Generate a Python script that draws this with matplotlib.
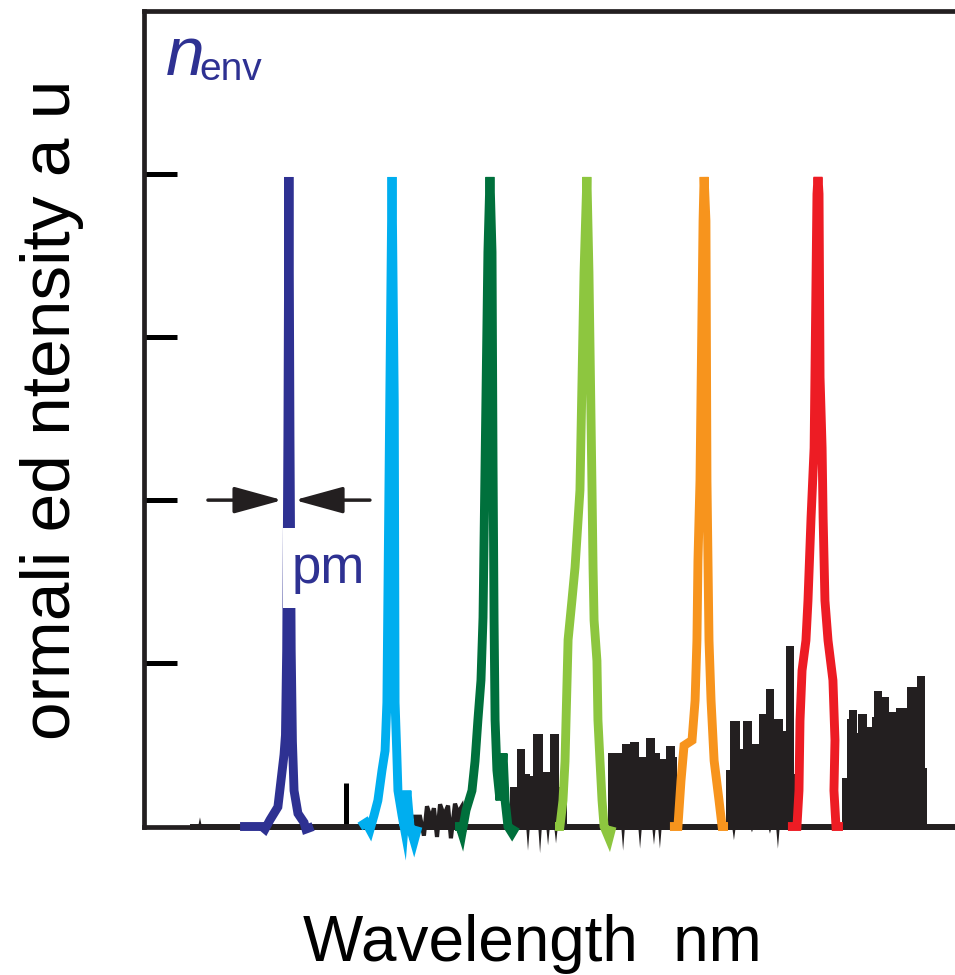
import numpy as np
import matplotlib
matplotlib.use('Agg')
import matplotlib.pyplot as plt
from matplotlib.patches import Rectangle

plt.rcParams['font.family'] = ['Liberation Sans', 'DejaVu Sans']

ink = '#231F20'
blue = '#2E3192'

# colored spectra (wavelength nm, normalized intensity)
blue_x = [448.2, 458.9, 460.4, 462.8, 466.7, 468.2, 469.7, 470.4, 471.0, 471.6, 472.1, 472.6, 473.2, 473.8, 474.6, 476.5, 479.5, 480.4, 483.9]
blue_y = [0, 0, -0.004, 0.01, 0.03, 0.07, 0.11, 0.14, 0.27, 0.6, 0.995, 0.6, 0.27, 0.13, 0.055, 0.02, 0.006, -0.004, 0]

cyan_x = [506.8, 509.8, 511.7, 513.7, 515.6, 517.6, 519.1, 520.0, 521.4, 522.5, 523.6, 524.0, 524.8, 525.4, 527.4, 528.4, 529.8, 531.3, 533.3, 535.2]
cyan_y = [0, 0.006, -0.005, 0.017, 0.04, 0.086, 0.116, 0.19, 0.65, 0.995, 0.65, 0.19, 0.116, 0.055, 0.017, 0, 0.055, 0, -0.022, 0]

dgreen_x = [553.3, 555.7, 556.7, 558.7, 561.6, 563.1, 564.5, 566.0, 567.0, 568.0, 569.4, 570.4, 571.4, 571.9, 572.4, 572.9, 573.8, 575.3, 576.8, 577.8, 579.2, 581.2, 583.1]
dgreen_y = [0, 0, -0.01, 0.025, 0.055, 0.1, 0.163, 0.224, 0.32, 0.554, 0.88, 0.995, 0.88, 0.554, 0.316, 0.163, 0.086, 0.04, 0.112, 0.04, 0, -0.01, 0]

lgreen_x = [602.2, 604.6, 606.1, 607.1, 607.6, 608.6, 610.5, 612.0, 614.4, 616.4, 617.8, 618.8, 620.3, 620.8, 621.3, 622.7, 623.2, 624.2, 625.2, 626.2, 628.6, 630.1]
lgreen_y = [0, 0, 0.04, 0.1, 0.163, 0.286, 0.347, 0.397, 0.515, 0.849, 0.995, 0.849, 0.515, 0.397, 0.316, 0.254, 0.163, 0.1, 0.04, 0, -0.018, 0]

orange_x = [658.4, 662.3, 663.8, 665.3, 669.2, 670.7, 671.6, 672.1, 673.1, 674.6, 675.1, 676.0, 676.5, 677.0, 677.5, 678.5, 680.0, 682.4, 683.9, 686.8]
orange_y = [0, 0, 0.07, 0.124, 0.132, 0.193, 0.285, 0.407, 0.53, 0.928, 0.995, 0.928, 0.53, 0.407, 0.285, 0.193, 0.101, 0.04, 0, 0]

red_x = [716.1, 720.5, 721.5, 722.0, 723.0, 724.9, 725.9, 727.4, 728.9, 729.3, 730.3, 730.8, 731.3, 731.8, 732.8, 733.3, 734.2, 735.7, 738.1, 739.1, 738.6, 739.6, 743.0]
red_y = [0, 0, 0.055, 0.162, 0.239, 0.285, 0.346, 0.473, 0.58, 0.688, 0.969, 0.995, 0.969, 0.688, 0.58, 0.473, 0.346, 0.285, 0.224, 0.132, 0.055, 0, 0]

peak_colors = ['#2E3192', '#00AEEF', '#00703C', '#8DC63F', '#F7941D', '#ED1C24']

# black noise trace between peaks
zig_x = [532.8, 536.2, 538.1, 539.6, 541.6, 543.0, 544.5, 546.0, 547.9, 549.9, 551.3, 553.3, 554.8, 556.7, 558.2]
zig_y = [0.015, 0.015, -0.014, 0.031, 0.012, 0.028, -0.016, 0.034, 0.017, 0.032, -0.018, 0.035, 0.021, 0.031, 0]

noiseB_edges = [580.2, 583.6, 587.5, 590.0, 591.4, 596.3, 599.8, 604.2, 608.1]
noiseB_h = [0.06, 0.119, 0.081, 0.078, 0.142, 0.083, 0.142, 0.06]
noiseC_edges = [628.1, 635.0, 638.9, 643.3, 646.7, 651.1, 653.5, 656.5, 660.9, 661.9]
noiseC_h = [0.112, 0.127, 0.129, 0.107, 0.136, 0.113, 0.104, 0.124, 0.106]
noiseD_edges = [685.8, 687.8, 692.7, 694.1, 698.5, 702.0, 705.4, 709.3, 713.7, 715.2, 719.1, 722.0]
noiseD_h = [0.086, 0.162, 0.119, 0.162, 0.127, 0.172, 0.21, 0.165, 0.147, 0.276, 0.081]
noiseE_edges = [742.5, 745.0, 746.0, 749.9, 750.4, 754.8, 757.2, 758.2, 762.1, 765.5, 769.0, 774.3, 779.2, 783.1, 784.1]
noiseE_h = [0.075, 0.165, 0.179, 0.144, 0.172, 0.152, 0.167, 0.207, 0.199, 0.176, 0.182, 0.213, 0.231, 0.089]

spike_x = [428.6, 589.0, 594.9, 598.8, 602.7, 635.5, 643.8, 650.6, 653.5, 689.7, 698.5, 707.3, 711.2]
spike_d = [0.014, -0.037, -0.041, -0.029, -0.026, -0.037, -0.034, -0.028, -0.034, -0.021, -0.009, -0.011, -0.034]

base_start, base_end = 423.7, 812.5

fig = plt.figure(figsize=(9.55, 9.75), dpi=100)
ax = fig.add_axes([0.1503, 0.1523, 0.8812, 0.8369])
ax.set_xlim(401.0, 812.5)
ax.set_ylim(0, 1.25)

ax.plot([base_start, base_end], [0, 0], color=ink, lw=4.3, solid_capstyle='butt', zorder=2, clip_on=False)
for edges, h in [(noiseB_edges, noiseB_h), (noiseC_edges, noiseC_h),
                 (noiseD_edges, noiseD_h), (noiseE_edges, noiseE_h)]:
    ax.stairs(h, edges, baseline=0, fill=True, color=ink, lw=0, zorder=2)
ax.fill_between(zig_x, 0, zig_y, color=ink, lw=0, zorder=2, clip_on=False)
ax.plot(zig_x, zig_y, color=ink, lw=3, solid_joinstyle='miter', zorder=2, clip_on=False)
for x, d in zip(spike_x, spike_d):
    ax.fill([x - 0.9, x, x + 0.9], [0, d, 0], color=ink, lw=0, zorder=2, clip_on=False)

spectra = [(blue_x, blue_y), (cyan_x, cyan_y), (dgreen_x, dgreen_y),
           (lgreen_x, lgreen_y), (orange_x, orange_y), (red_x, red_y)]
for (x, y), c in zip(spectra, peak_colors):
    ax.plot(x, y, color=c, lw=6.4, solid_joinstyle='miter', solid_capstyle='butt',
            zorder=3, clip_on=False)

# white gap in the blue line behind the width label
ax.add_patch(Rectangle((469.0, 0.334), 7.0, 0.124, facecolor='white', edgecolor='none', zorder=4))

arrow = dict(arrowstyle='-|>,head_length=0.4,head_width=0.11', mutation_scale=75,
             lw=2.5, color=ink, shrinkA=0, shrinkB=0)
ax.annotate('', xy=(468.9, 0.5), xytext=(432.5, 0.5), arrowprops=arrow, zorder=5)
ax.annotate('', xy=(474.9, 0.5), xytext=(511.7, 0.5), arrowprops=arrow, zorder=5)

for s in ['left', 'top', 'bottom']:
    ax.spines[s].set_linewidth(3.4)
    ax.spines[s].set_color(ink)
ax.spines['right'].set_visible(False)

ax.set_xticks([500, 600, 700])
ax.set_yticks([0.25, 0.5, 0.75, 1.0])
ax.tick_params(direction='in', labelbottom=False, labelleft=False, color='black', width=3.6)
ax.tick_params(axis='x', length=32)
ax.tick_params(axis='y', length=24)

fig.text(292 / 955, 1 - 583 / 975, 'pm', color=blue, fontsize=38, va='baseline', ha='left')
fig.text(166 / 955, 1 - 75 / 975, 'n', color=blue, fontsize=50, style='italic', va='baseline', ha='left')
fig.text(199 / 955, 1 - 80 / 975, 'env', color=blue, fontsize=28, va='baseline', ha='left')

fig.text(70 / 955, 1 - 410 / 975, 'ormali ed ntensity a u', fontsize=50, rotation=90,
         rotation_mode='anchor', ha='center', va='baseline', color='black')
fig.text(532 / 955, 1 - 961 / 975, 'Wavelength  nm', fontsize=46, ha='center', va='baseline', color='black')

fig.savefig('out.png', dpi=100)
